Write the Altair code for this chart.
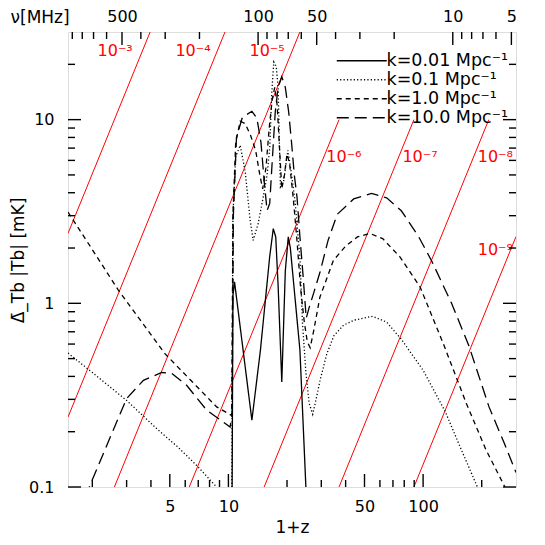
import math
import altair as alt
import pandas as pd

FONT = "DejaVu Sans"
NU21 = 1420.4          # MHz, rest frequency of the 21-cm line
T_SKY0_K = 180.0       # sky temperature (K) at NU_SKY0
NU_SKY0 = 180.0        # MHz
SKY_INDEX = 2.6

X_DOMAIN = [1.5, 300]
Y_DOMAIN = [0.1, 30]
W, H = 448, 455

# ---- curves (1+z, mK) ----
k_labels = ["k=0.01 Mpc⁻¹", "k=0.1 Mpc⁻¹", "k=1.0 Mpc⁻¹", "k=10.0 Mpc⁻¹"]

k001_x = [10.4, 10.55, 10.75, 13.2, 14.6, 16.3, 17.0, 17.5, 18.0, 18.8, 19.6, 20.3, 20.8, 23.3, 25.0, 26.0]
k001_y = [0.03, 1.1, 1.31, 0.231, 0.555, 1.8, 2.55, 2.3, 1.25, 0.373, 1.5, 2.30, 2.0, 0.555, 0.1, 0.05]

k01_x = [1.5, 2.0, 3.0, 4.28, 5.5, 6.87, 8.7, 10.0, 10.4, 10.55, 10.9, 11.5, 12.2, 12.9, 13.4, 14.2,
         15.1, 15.8, 16.3, 16.7, 17.1, 17.6, 18.0, 18.25, 18.5, 19.2, 20.2, 21.0, 22.0, 23.3, 24.0,
         25.0, 26.0, 27.1, 28.2, 29.6, 32.0, 34.8, 39.0, 44.2, 55.0, 65.0, 77.3, 100, 130, 155, 190, 220]
k01_y = [0.536, 0.42, 0.296, 0.208, 0.165, 0.131, 0.1, 0.085, 0.08, 3.0, 6.3, 7.25, 5.2, 2.9, 2.2, 2.7,
         3.8, 5.0, 7.0, 14.0, 20.6, 19.5, 15.0, 8.0, 4.3, 4.6, 6.8, 5.2, 3.6, 1.76, 0.79,
         0.42, 0.285, 0.249, 0.3, 0.383, 0.53, 0.665, 0.76, 0.81, 0.85, 0.79, 0.637, 0.432, 0.257, 0.165, 0.1, 0.07]

k1_x = [1.5, 2.0, 2.72, 3.5, 4.72, 6.5, 8.7, 10.4, 10.55, 10.9, 11.5, 12.2, 13.0, 13.8, 14.5, 15.0,
        15.6, 16.2, 16.8, 17.3, 17.8, 18.3, 18.8, 19.4, 20.0, 20.6, 21.5, 22.5, 23.5, 24.5, 25.4,
        26.3, 27.5, 29.5, 34.6, 40, 46, 53.3, 62, 76, 96.4, 127, 167, 210, 263, 300]
k1_y = [3.14, 1.96, 1.18, 0.82, 0.532, 0.375, 0.273, 0.245, 3.0, 7.5, 9.8, 9.5, 8.2, 6.8, 5.0, 4.2,
        5.5, 9.0, 13.0, 15.0, 12.0, 7.0, 4.2, 5.0, 6.5, 5.8, 3.8, 2.2, 1.2, 0.8, 0.62,
        0.573, 0.72, 1.08, 1.71, 2.05, 2.3, 2.40, 2.25, 1.79, 1.23, 0.603, 0.284, 0.16, 0.1, 0.075]

k10_x = [1.8, 1.93, 2.56, 3.0, 3.66, 4.54, 5.12, 6.1, 7.73, 10.2, 10.45, 10.6, 11.0, 11.8, 13.2, 14.0,
         14.7, 15.3, 15.8, 16.3, 16.8, 17.4, 18.0, 18.8, 19.6, 20.4, 21.1, 21.8, 22.5, 23.3, 24.2,
         25.1, 26.0, 27.5, 29.6, 32.5, 36.2, 44, 54.4, 65, 77.3, 95, 111, 140, 172, 218, 260, 300]
k10_y = [0.07, 0.1, 0.204, 0.303, 0.381, 0.42, 0.415, 0.358, 0.262, 0.212, 0.25, 3.0, 8.0, 10.3, 11.1, 10.2,
         7.5, 4.5, 3.2, 3.5, 6.0, 11.0, 15.0, 17.1, 15.0, 11.0, 7.5, 5.0, 3.8, 2.3, 1.4,
         0.83, 0.95, 1.15, 1.49, 2.2, 3.05, 3.7, 3.97, 3.75, 3.19, 2.3, 1.69, 1.0, 0.586, 0.273, 0.175, 0.12]

# ---- red guide lines: fraction of the sky temperature ----
fractions = [1e-3, 1e-4, 1e-5, 1e-6, 1e-7, 1e-8, 1e-9]
frac_labels = ["10⁻³", "10⁻⁴", "10⁻⁵", "10⁻⁶", "10⁻⁷", "10⁻⁸", "10⁻⁹"]
frac_cap_mK = [1e4, 1e4, 1e4, 10, 10, 10, 10]
label_x = [2.62, 6.58, 15.8, 39.2, 96.4, 235, 235]
label_y = [23.5, 23.5, 23.5, 6.23, 6.23, 6.23, 1.94]

# axis tick values
x_major = [5, 10, 50, 100]
x_minor = [2, 3, 4, 6, 7, 8, 9, 20, 30, 40, 60, 70, 80, 90, 200]
y_major = [0.1, 1, 10]
y_minor = [0.2, 0.3, 0.4, 0.5, 0.6, 0.7, 0.8, 0.9, 2, 3, 4, 5, 6, 7, 8, 9, 20]
nu_major = [500, 100, 50, 10, 5]
nu_minor = [900, 800, 700, 600, 400, 300, 200, 90, 80, 70, 60, 40, 30, 20, 9, 8, 7, 6]
MAJOR_LEN, MINOR_LEN = 13, 7


def t_sky_mK(one_plus_z):
    nu = NU21 / one_plus_z
    return 1000.0 * T_SKY0_K * (nu / NU_SKY0) ** (-SKY_INDEX)


def x_at_t_mK(t_mK):
    nu = NU_SKY0 * (t_mK / 1000.0 / T_SKY0_K) ** (-1.0 / SKY_INDEX)
    return NU21 / nu


curve_rows = []
for lab, xs_, ys_ in zip(k_labels, [k001_x, k01_x, k1_x, k10_x], [k001_y, k01_y, k1_y, k10_y]):
    for i, (a, b) in enumerate(zip(xs_, ys_)):
        curve_rows.append({"x": a, "y": b, "k": lab, "i": i})
curves = pd.DataFrame(curve_rows)

nu_major_x = [NU21 / v for v in nu_major]
nu_minor_x = [NU21 / v for v in nu_minor]

red_rows = []
for f, lab, cap in zip(fractions, frac_labels, frac_cap_mK):
    x0 = X_DOMAIN[0]
    x1 = min(X_DOMAIN[1], x_at_t_mK(cap / f))
    red_rows.append({"x": x0, "y": f * t_sky_mK(x0), "f": lab, "i": 0})
    red_rows.append({"x": x1, "y": f * t_sky_mK(x1), "f": lab, "i": 1})
red = pd.DataFrame(red_rows)

# inward tick marks: start/end from the pixel length converted through the log scales
ppd_x = W / math.log10(X_DOMAIN[1] / X_DOMAIN[0])
ppd_y = H / math.log10(Y_DOMAIN[1] / Y_DOMAIN[0])
vt_rows, ht_rows = [], []
for side, vals, ln in [("bottom", x_major, MAJOR_LEN), ("bottom", x_minor, MINOR_LEN),
                       ("top", nu_major_x, MAJOR_LEN), ("top", nu_minor_x, MINOR_LEN)]:
    fy = 10 ** (ln / ppd_y)
    for v in vals:
        if side == "bottom":
            vt_rows.append({"x": v, "y": Y_DOMAIN[0], "y2": Y_DOMAIN[0] * fy})
        else:
            vt_rows.append({"x": v, "y": Y_DOMAIN[1] / fy, "y2": Y_DOMAIN[1]})
for side, vals, ln in [("left", y_major, MAJOR_LEN), ("left", y_minor, MINOR_LEN),
                       ("right", y_major, MAJOR_LEN), ("right", y_minor, MINOR_LEN)]:
    fx = 10 ** (ln / ppd_x)
    for v in vals:
        if side == "left":
            ht_rows.append({"y": v, "x": X_DOMAIN[0], "x2": X_DOMAIN[0] * fx})
        else:
            ht_rows.append({"y": v, "x": X_DOMAIN[1] / fx, "x2": X_DOMAIN[1]})
vticks = pd.DataFrame(vt_rows)
hticks = pd.DataFrame(ht_rows)

labels = pd.DataFrame({"x": label_x, "y": label_y, "t": frac_labels})

xs = alt.Scale(type="log", domain=X_DOMAIN, nice=False)
ys = alt.Scale(type="log", domain=Y_DOMAIN, nice=False)

common = dict(domain=False, grid=False, ticks=False,
              labelFont=FONT, labelFontSize=16, labelColor="black", labelFlush=False,
              labelOverlap=False, titleFont=FONT, titleFontSize=17, titleColor="black",
              titleFontWeight="normal")

red_layer = alt.Chart(red).mark_line(color="#ff0000", strokeWidth=1, clip=True).encode(
    x=alt.X("x:Q", scale=xs,
            axis=alt.Axis(orient="bottom", values=x_major, labelPadding=11, format="~g",
                          title="1+z", titleX=224, titleY=40, titleBaseline="middle",
                          titleAlign="center", **common)),
    y=alt.Y("y:Q", scale=ys,
            axis=alt.Axis(orient="left", values=y_major, labelPadding=14, format="~g",
                          title="Δ̄_Tb |Tb|   [mK]", titleX=-50, titleY=228, titleAngle=270,
                          titleBaseline="middle", titleAlign="center", **common)),
    detail="f:N",
    order="i:Q",
)

curve_layer = alt.Chart(curves).mark_line(color="black", strokeWidth=1.3, clip=True).encode(
    x=alt.X("x:Q", scale=xs, axis=None),
    y=alt.Y("y:Q", scale=ys, axis=None),
    strokeDash=alt.StrokeDash(
        "k:N",
        scale=alt.Scale(domain=k_labels, range=[[1, 0], [1.2, 2.2], [5, 4], [12, 6]]),
        legend=alt.Legend(orient="none", legendX=285, legendY=20, title=None,
                          symbolType="M-5,0H5", symbolSize=100, symbolStrokeWidth=1.3,
                          symbolStrokeColor="black", labelFont=FONT, labelFontSize=17.5,
                          labelColor="black", labelOffset=16, rowPadding=0, padding=0,
                          labelLimit=300),
    ),
    order="i:Q",
)

text_layer = alt.Chart(labels).mark_text(color="#ff0000", font=FONT, fontSize=16,
                                         align="center", baseline="middle").encode(
    x=alt.X("x:Q", scale=xs,
            axis=alt.Axis(orient="top", values=nu_major_x, labelPadding=8,
                          labelExpr=f"format({NU21} / datum.value, '.0f')",
                          title="ν[MHz]", titleX=-58, titleY=-15, titleAngle=0,
                          titleAlign="left", titleBaseline="middle", **common)),
    y=alt.Y("y:Q", scale=ys, axis=None),
    text="t:N",
)

vtick_layer = alt.Chart(vticks).mark_rule(color="black", strokeWidth=1.4).encode(
    x=alt.X("x:Q", scale=xs, axis=None),
    y=alt.Y("y:Q", scale=ys, axis=None),
    y2="y2:Q",
)
htick_layer = alt.Chart(hticks).mark_rule(color="black", strokeWidth=1.4).encode(
    x=alt.X("x:Q", scale=xs, axis=None),
    x2="x2:Q",
    y=alt.Y("y:Q", scale=ys, axis=None),
)

chart = alt.layer(red_layer, curve_layer, text_layer, vtick_layer, htick_layer).resolve_axis(
    x="independent", y="independent"
).properties(
    width=W, height=H,
    autosize=alt.AutoSizeParams(type="none"),
    padding={"left": 60, "top": 24, "right": 21, "bottom": 50},
).configure_view(stroke="black", strokeWidth=1.5).configure(background="white")

chart.save("out.html", embed_options={"renderer": "svg", "actions": False})
